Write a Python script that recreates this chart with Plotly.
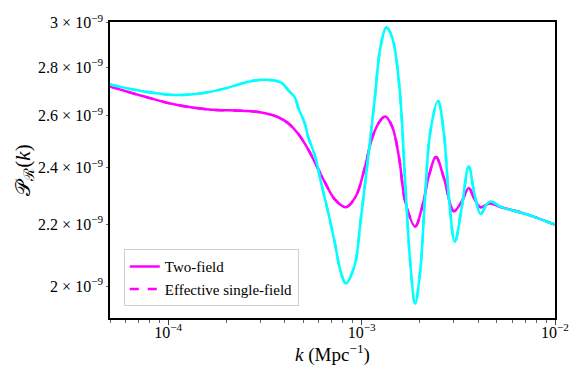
import plotly.graph_objects as go

# k in Mpc^-1, power spectrum in units of 1e-9
k_two = [5.0e-5, 7.36e-5, 1.099e-4, 1.623e-4, 2.396e-4, 3.034e-4, 3.709e-4, 4.174e-4,
         4.697e-4, 5.285e-4, 5.741e-4, 6.46e-4, 7.27e-4, 8.28e-4, 9.316e-4, 1.036e-3,
         1.139e-3, 1.252e-3, 1.328e-3, 1.442e-3, 1.566e-3, 1.681e-3, 1.892e-3, 2.055e-3,
         2.232e-3, 2.424e-3, 2.665e-3, 2.999e-3, 3.296e-3, 3.580e-3, 3.842e-3, 4.125e-3,
         4.587e-3, 5.285e-3, 7.10e-3, 1.0e-2]
P_two = [2.720, 2.680, 2.644, 2.625, 2.620, 2.613, 2.594, 2.570,
         2.529, 2.470, 2.419, 2.347, 2.286, 2.259, 2.296, 2.397,
         2.518, 2.582, 2.597, 2.555, 2.433, 2.279, 2.193, 2.259,
         2.373, 2.440, 2.362, 2.245, 2.279, 2.327, 2.286, 2.259,
         2.272, 2.259, 2.235, 2.199]

k_cyan = [5.0e-5, 7.36e-5, 1.099e-4, 1.494e-4, 1.983e-4, 2.603e-4, 3.18e-4, 3.843e-4,
          4.174e-4, 4.533e-4, 4.697e-4, 5.101e-4, 5.285e-4, 5.741e-4, 6.163e-4, 6.695e-4,
          7.27e-4, 7.80e-4, 8.28e-4, 9.21e-4, 9.88e-4, 1.073e-3, 1.166e-3, 1.252e-3,
          1.343e-3, 1.442e-3, 1.566e-3, 1.681e-3, 1.784e-3, 1.892e-3, 2.007e-3, 2.129e-3,
          2.258e-3, 2.483e-3, 2.665e-3, 2.827e-3, 3.034e-3, 3.296e-3, 3.580e-3, 3.842e-3,
          4.125e-3, 4.43e-3, 4.642e-3, 5.285e-3, 7.10e-3, 1.0e-2]
P_cyan = [2.728, 2.700, 2.684, 2.692, 2.712, 2.740, 2.748, 2.736,
          2.704, 2.672, 2.633, 2.566, 2.518, 2.444, 2.347, 2.245,
          2.138, 2.045, 2.009, 2.066, 2.212, 2.419, 2.660, 2.890,
          2.978, 2.930, 2.724, 2.347, 2.075, 1.947, 2.045, 2.292,
          2.529, 2.660, 2.529, 2.292, 2.142, 2.259, 2.405, 2.302,
          2.235, 2.269, 2.279, 2.259, 2.235, 2.199]

y_ticks = [2.0, 2.2, 2.4, 2.6, 2.8, 3.0]
y_labels = ["2 × 10<sup>−9</sup>", "2.2 × 10<sup>−9</sup>", "2.4 × 10<sup>−9</sup>",
            "2.6 × 10<sup>−9</sup>", "2.8 × 10<sup>−9</sup>", "3 × 10<sup>−9</sup>"]
x_ticks = [1e-4, 1e-3, 1e-2]
x_labels = ["10<sup>−4</sup>", "10<sup>−3</sup>", "10<sup>−2</sup>"]
x_minor = [m * 10.0**e for e in (-5, -4, -3) for m in range(2, 10)]

MAG = "#ff00ff"
CYAN = "#00ffff"

fig = go.Figure()
fig.add_trace(go.Scatter(x=k_two, y=[p * 1e-9 for p in P_two], mode="lines", name="Two-field",
                         line=dict(color=MAG, width=2.5, shape="spline")))
fig.add_trace(go.Scatter(x=k_two, y=[p * 1e-9 for p in P_two], mode="lines", name="Effective single-field",
                         line=dict(color=MAG, width=2.5, dash="dash", shape="spline")))
fig.add_trace(go.Scatter(x=k_cyan, y=[p * 1e-9 for p in P_cyan], mode="lines", showlegend=False,
                         line=dict(color=CYAN, width=2.5, shape="spline")))
fig.add_trace(go.Scatter(x=k_cyan, y=[p * 1e-9 for p in P_cyan], mode="lines", showlegend=False,
                         line=dict(color=CYAN, width=2.5, dash="dash", shape="spline")))

font = "Liberation Serif, DejaVu Serif, serif"
fig.update_layout(
    width=581, height=378,
    margin=dict(l=110, r=23, t=12, b=60),
    plot_bgcolor="white", paper_bgcolor="white",
    font=dict(family=font, size=16, color="black"),
    legend=dict(x=0.031, y=0.04, xanchor="left", yanchor="bottom",
                bgcolor="white", bordercolor="#d0d0d0", borderwidth=1,
                font=dict(size=15)),
)
fig.update_xaxes(type="log", range=[-4.30103, -2], showgrid=False,
                 showline=True, linecolor="black", linewidth=1.5, mirror=True,
                 tickvals=x_ticks, ticktext=x_labels, ticks="outside", ticklen=5,
                 tickcolor="#444", tickfont=dict(size=16), ticklabelstandoff=-6,
                 minor=dict(tickvals=x_minor, ticks="outside", ticklen=3, tickcolor="#666"),
                 title=dict(text="<i>k</i> (Mpc<sup>−1</sup>)", font=dict(size=19), standoff=0))
fig.update_yaxes(type="log", range=[-8.7201, -8.5224], showgrid=False,
                 showline=True, linecolor="black", linewidth=1.5, mirror=True,
                 tickvals=[v * 1e-9 for v in y_ticks], ticktext=y_labels,
                 ticks="outside", ticklen=2, tickcolor="#666", tickfont=dict(size=16),
                 title=dict(text="𝒫<sub>ℛ</sub>(<i>k</i>)", font=dict(size=21), standoff=2))

fig.write_html("out.html", config={"displayModeBar": False},
               post_script="document.body.style.margin='0';")
